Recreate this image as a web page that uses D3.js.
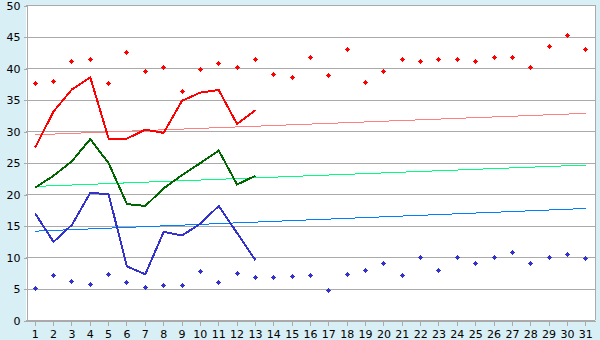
<!DOCTYPE html>
<html>
<head>
<meta charset="utf-8">
<script src="https://cdn.jsdelivr.net/npm/d3@7"></script>
<style>
  body { margin: 0; background: #d9eff6; }
  svg { display: block; }
  .axis text { font-family: "DejaVu Sans", Verdana, sans-serif; font-size: 11px; fill: #000; }
</style>
</head>
<body>
<svg width="600" height="340"></svg>
<script>
var width = 600,
    height = 340;

// days on the x axis
var days = [1, 2, 3, 4, 5, 6, 7, 8, 9, 10, 11, 12, 13, 14, 15, 16,
            17, 18, 19, 20, 21, 22, 23, 24, 25, 26, 27, 28, 29, 30, 31];
var yTicks = [0, 5, 10, 15, 20, 25, 30, 35, 40, 45, 50];

// scatter points (whole month)
var redPoints = [37.5, 37.9, 41.1, 41.3, 37.6, 42.5, 39.4, 40.0, 36.3, 39.8,
                 40.7, 40.0, 41.4, 39.0, 38.5, 41.7, 38.8, 43.0, 37.7, 39.5,
                 41.4, 41.1, 41.4, 41.4, 41.1, 41.7, 41.7, 40.0, 43.4, 45.2, 43.0];
var bluePoints = [5.0, 7.0, 6.1, 5.6, 7.25, 6.0, 5.2, 5.5, 5.5, 7.7,
                  6.0, 7.4, 6.8, 6.8, 6.9, 7.1, 4.7, 7.25, 7.9, 9.0,
                  7.1, 10.0, 7.9, 10.0, 9.0, 10.0, 10.7, 9.0, 10.0, 10.4, 9.8];

// lines (days 1-13)
var redLine = [27.4, 33.1, 36.6, 38.5, 28.8, 28.8, 30.2, 29.7, 34.8, 36.1, 36.5, 31.1, 33.3];
var greenLine = [21.0, 22.9, 25.2, 28.7, 24.9, 18.4, 18.1, 20.9, 23.0, 24.9, 26.9, 21.5, 22.9];
var blueLine = [16.9, 12.4, 15.1, 20.2, 19.95, 8.5, 7.25, 14.0, 13.4, 15.3, 18.1, 13.8, 9.5];

// trend lines: value at day 1 and day 31
var redTrend = [29.4, 32.8];
var greenTrend = [21.2, 24.6];
var blueTrend = [14.1, 17.7];

var plot = { left: 26, right: 595, top: 5, bottom: 320 };

var svg = d3.select("svg");

var x = d3.scaleBand().domain(days).range([plot.left, plot.right]);
var y = d3.scaleLinear().domain([0, 50]).range([plot.bottom, plot.top]);

function cx(d) {
    return x(d) + x.bandwidth() / 2;
}

// plot background
svg.append("rect")
    .attr("x", plot.left)
    .attr("y", plot.top)
    .attr("width", plot.right - plot.left)
    .attr("height", plot.bottom - plot.top)
    .attr("fill", "#fff");

// grid
svg.append("g")
    .selectAll("line")
    .data(yTicks)
    .join("line")
    .attr("x1", plot.left)
    .attr("x2", plot.right)
    .attr("y1", function (d) { return y(d) + 0.5; })
    .attr("y2", function (d) { return y(d) + 0.5; })
    .attr("stroke", "#aaa")
    .attr("shape-rendering", "crispEdges");

svg.append("line")
    .attr("x1", plot.right + 0.5).attr("x2", plot.right + 0.5)
    .attr("y1", plot.top).attr("y2", plot.bottom)
    .attr("stroke", "#aaa")
    .attr("shape-rendering", "crispEdges");

// axes
svg.append("g")
    .attr("class", "axis")
    .attr("transform", "translate(" + (plot.left + 0.5) + ",0.5)")
    .call(d3.axisLeft(y).tickValues(yTicks).tickSize(3).tickPadding(3).tickSizeOuter(0));

svg.append("g")
    .attr("class", "axis")
    .attr("transform", "translate(0," + (plot.bottom + 0.5) + ")")
    .call(d3.axisBottom(x).tickSize(5).tickPadding(5).tickSizeOuter(0));

svg.selectAll(".axis path, .axis line")
    .attr("stroke", "#aaa")
    .attr("shape-rendering", "crispEdges");

// trend lines
var trends = [
    { values: redTrend, color: "#ff8080" },
    { values: greenTrend, color: "#00ff80" },
    { values: blueTrend, color: "#0080ff" }
];
svg.append("g")
    .selectAll("line")
    .data(trends)
    .join("line")
    .attr("x1", cx(days[0]))
    .attr("x2", cx(days[days.length - 1]))
    .attr("y1", function (d) { return y(d.values[0]); })
    .attr("y2", function (d) { return y(d.values[1]); })
    .attr("stroke", function (d) { return d.color; })
    .attr("stroke-width", 1)
    .attr("shape-rendering", "crispEdges");

// lines
var line = d3.line()
    .x(function (d, i) { return cx(days[i]); })
    .y(function (d) { return y(d); });

var series = [
    { values: redLine, color: "#ff0000" },
    { values: greenLine, color: "#006600" },
    { values: blueLine, color: "#3333cc" }
];
svg.append("g")
    .selectAll("path")
    .data(series)
    .join("path")
    .attr("d", function (d) { return line(d.values); })
    .attr("fill", "none")
    .attr("stroke", function (d) { return d.color; })
    .attr("stroke-width", 2)
    .attr("shape-rendering", "crispEdges");

// small plus marker with a solid centre, 5px across
var plusMarker = {
    draw: function (context) {
        context.rect(-2.5, -0.5, 5, 1);
        context.rect(-0.5, -2.5, 1, 5);
        context.rect(-1.5, -1.5, 3, 3);
    }
};
var marker = d3.symbol().type(plusMarker);
var points = [
    { values: redPoints, color: "#ff0000" },
    { values: bluePoints, color: "#3333cc" }
];
points.forEach(function (p) {
    svg.append("g")
        .selectAll("path")
        .data(p.values)
        .join("path")
        .attr("transform", function (d, i) {
            return "translate(" + (Math.floor(cx(days[i])) + 0.5) + "," + (Math.floor(y(d)) + 0.5) + ")";
        })
        .attr("d", marker)
        .attr("fill", p.color)
        .attr("shape-rendering", "crispEdges");
});
</script>
</body>
</html>
